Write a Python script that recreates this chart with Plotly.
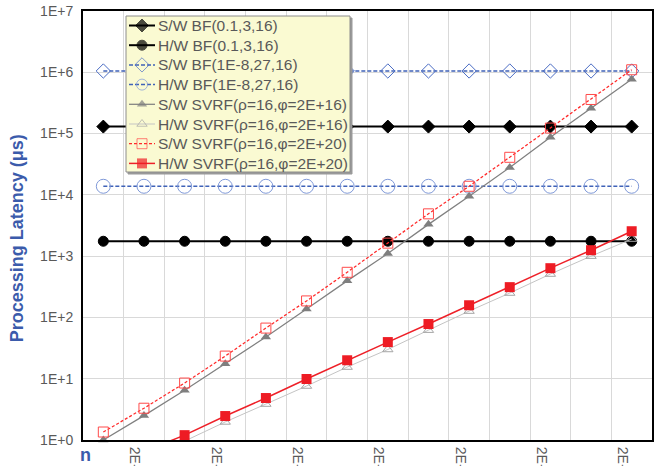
import plotly.graph_objects as go

n_labels = ["2E+01", "2E+02", "2E+03", "2E+04", "2E+05", "2E+06", "2E+07",
            "2E+08", "2E+09", "2E+10", "2E+11", "2E+12", "2E+13", "2E+14"]

sw_bf_01 = [130000, 130000, 130000, 130000, 130000, 130000, 130000,
            130000, 130000, 130000, 130000, 130000, 130000, 130000]
hw_bf_01 = [1750, 1750, 1750, 1750, 1750, 1750, 1750,
            1750, 1750, 1750, 1750, 1750, 1750, 1750]
sw_bf_1e8 = [1050000, 1050000, 1050000, 1050000, 1050000, 1050000, 1050000,
             1050000, 1050000, 1050000, 1050000, 1050000, 1050000, 1050000]
hw_bf_1e8 = [13800, 13800, 13800, 13800, 13800, 13800, 13800,
             13800, 13800, 13800, 13800, 13800, 13800, 13800]
sw_svrf16 = [1.0, 2.5, 6.5, 17.5, 48, 137, 395, 1100, 3300, 9500,
             28000, 87000, 260000, 770000]
hw_svrf16 = [None, None, 0.96, 1.97, 3.86, 7.6, 15.5, 30, 62, 127,
             250, 510, 1000, 1900]
sw_svrf20 = [1.35, 3.3, 8.5, 23.4, 67, 186, 545, 1630, 4900, 13800,
             41000, 123000, 360000, 1100000]
hw_svrf20 = [None, 0.65, 1.2, 2.46, 4.84, 9.9, 20, 39.6, 78, 158,
             312, 636, 1250, 2550]

pos = list(range(1, len(n_labels) + 1))

FONT = "Liberation Sans"
TXT = "#595959"
BLUE_T = "#3b5bab"
W, H = 664, 466
ML, MR, MT, MB = 83, 12, 11, 26


def sizes(vals, s):
    return [s if (v is not None and v >= 0.9) else 0 for v in vals]


series = [
    ("S/W BF(0.1,3,16)", sw_bf_01, dict(color="black", width=2), "diamond", 10, "black", 1),
    ("H/W BF(0.1,3,16)", hw_bf_01, dict(color="black", width=2), "circle", 10, "black", 1),
    ("S/W BF(1E-8,27,16)", sw_bf_1e8, dict(color="#3f62b8", width=1.5, dash="4px,2px"),
     "diamond-open", 11, "#4a6cc4", 1),
    ("H/W BF(1E-8,27,16)", hw_bf_1e8, dict(color="#3f62b8", width=1.5, dash="4px,2px"),
     "circle-open", 14, "#7f99d8", 1),
    ("S/W SVRF(ρ=16,φ=2E+16)", sw_svrf16, dict(color="#808080", width=1.25),
     "triangle-up", 9, "#7f7f7f", 0),
    ("H/W SVRF(ρ=16,φ=2E+16)", hw_svrf16, dict(color="#c4c4c4", width=1),
     "triangle-up-open", 9, "#a6a6a6", 1),
    ("S/W SVRF(ρ=16,φ=2E+20)", sw_svrf20, dict(color="#ff2a2a", width=1.25, dash="3px,2px"),
     "square-open", 10, "#ff4a4a", 1),
    ("H/W SVRF(ρ=16,φ=2E+20)", hw_svrf20, dict(color="#ee2028", width=1.5),
     "square", 10, "#ee1c24", 0),
]

fig = go.Figure()
for name, vals, line, sym, sz, mcol, mlw in series:
    fig.add_trace(go.Scatter(
        x=pos, y=vals, name=name, mode="lines+markers", line=line,
        cliponaxis=False, showlegend=False,
        marker=dict(symbol=sym, size=sizes(vals, sz), color=mcol, opacity=1,
                    line=dict(color=mcol, width=mlw)),
    ))

# ---- custom legend drawn on an overlay axis in pixel coordinates ----
LX0, LX1, LY0, LY1 = 126, 350, 16, 172
ROW0, ROWH = 25.5, 19.7
fig.add_trace(go.Scatter(
    x=[LX0 + 2, LX1 + 2, LX1 + 2, LX0 + 2, LX0 + 2],
    y=[LY0 + 2, LY0 + 2, LY1 + 2, LY1 + 2, LY0 + 2],
    xaxis="x2", yaxis="y2", mode="lines", fill="toself",
    fillcolor="#9a9a9a", line=dict(color="#9a9a9a", width=1),
    showlegend=False, hoverinfo="skip"))
fig.add_trace(go.Scatter(
    x=[LX0, LX1, LX1, LX0, LX0], y=[LY0, LY0, LY1, LY1, LY0],
    xaxis="x2", yaxis="y2", mode="lines", fill="toself",
    fillcolor="#fafad2", line=dict(color="#8c8c8c", width=1),
    showlegend=False, hoverinfo="skip"))

annotations = []
for i, (name, vals, line, sym, sz, mcol, mlw) in enumerate(series):
    yc = ROW0 + ROWH * i
    fig.add_trace(go.Scatter(
        x=[129, 142, 155], y=[yc, yc, yc], xaxis="x2", yaxis="y2",
        mode="lines+markers", line=line, showlegend=False, hoverinfo="skip",
        marker=dict(symbol=sym, size=[0, min(sz, 11), 0], color=mcol,
                    line=dict(color=mcol, width=mlw))))
    annotations.append(dict(
        text=name, xref="x2", yref="y2", x=156, y=yc,
        xanchor="left", yanchor="middle", showarrow=False,
        font=dict(family=FONT, size=15.5, color=TXT)))

annotations += [
    dict(text="<b>Processing Latency (μs)</b>", textangle=-90,
         xref="paper", yref="paper", x=-0.116, y=0.47,
         xanchor="center", yanchor="middle", showarrow=False,
         font=dict(family=FONT, size=18, color=BLUE_T)),
    dict(text="<b>n</b>", xref="paper", yref="paper",
         x=0.005, y=-0.035, xanchor="center", yanchor="middle",
         showarrow=False, font=dict(family=FONT, size=18, color=BLUE_T)),
]

fig.update_layout(
    template="none",
    width=W, height=H,
    margin=dict(l=ML, r=MR, t=MT, b=MB, autoexpand=False),
    paper_bgcolor="white", plot_bgcolor="white",
    font=dict(family=FONT, size=14, color=TXT),
    showlegend=False,
    hovermode=False,
    xaxis=dict(
        range=[0.5, len(n_labels) + 0.5],
        tickmode="array", tickvals=pos[1::2], ticktext=n_labels[1::2],
        tickangle=90, ticks="", showgrid=False, zeroline=False,
        showline=True, linecolor="black", linewidth=2, mirror=True,
        automargin=False, ticklabelshift=-9, ticklabelstandoff=2,
        tickfont=dict(family=FONT, size=14, color=TXT),
        minor=dict(tickmode="linear", tick0=0.5, dtick=1, showgrid=True,
                   gridcolor="#d9d9d9", gridwidth=1, ticks=""),
    ),
    yaxis=dict(
        type="log", range=[0, 7],
        tickmode="array",
        tickvals=[1, 10, 100, 1000, 10000, 100000, 1000000, 10000000],
        ticktext=["1E+0", "1E+1", "1E+2", "1E+3", "1E+4", "1E+5", "1E+6", "1E+7"],
        ticks="", showgrid=True, gridcolor="#d9d9d9", gridwidth=1,
        zeroline=False, showline=True, linecolor="black", linewidth=2,
        mirror=True, automargin=False, ticklabelstandoff=5,
        tickfont=dict(family=FONT, size=14, color=TXT),
    ),
    xaxis2=dict(overlaying="x", range=[ML, W - MR], visible=False,
                fixedrange=True),
    yaxis2=dict(overlaying="y", range=[H - MB, MT], visible=False,
                fixedrange=True),
    annotations=annotations,
)

fig.write_html("out.html", config={"displayModeBar": False},
               post_script="document.body.style.margin='0px';")
